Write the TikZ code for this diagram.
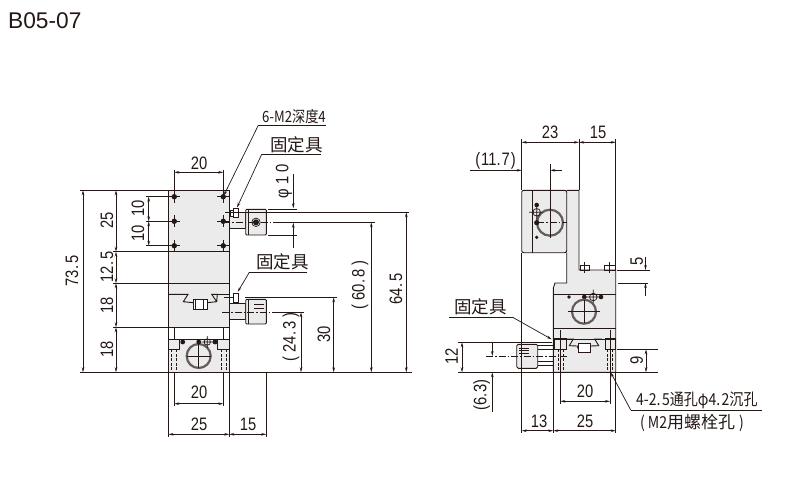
\documentclass[tikz,border=0pt]{standalone}
\usepackage{fontspec}
\setmainfont{Liberation Sans}
\newfontfamily\dimfont[FakeStretch=0.82]{Liberation Sans}
\newfontfamily\cjkfont{Noto Sans CJK SC}
\newfontfamily\cjknarrow[FakeStretch=0.85]{Noto Sans CJK SC}
\usetikzlibrary{arrows.meta}
\definecolor{ink}{HTML}{231815}
\definecolor{body}{HTML}{EBEBEB}

\tikzset{
  ln/.style={draw=ink,line width=0.9pt},
  thin ln/.style={draw=ink,line width=0.7pt},
  bore/.style={draw=ink!70,line width=2.2pt},
  ctr/.style={draw=ink,line width=0.7pt,dash pattern=on 7pt off 2pt on 1.5pt off 2pt},
  hid/.style={draw=ink,line width=0.7pt,dash pattern=on 3pt off 1.5pt},
  dimline/.style={draw=ink,line width=0.7pt,{Stealth[length=5pt,width=2.6pt]}-{Stealth[length=5pt,width=2.6pt]}},
  tip/.style={draw=ink,line width=0.7pt,-{Stealth[length=5pt,width=2.6pt]}},
  num/.style={inner sep=0,text=ink,font=\dimfont\fontsize{18}{18}\selectfont},
  cjk/.style={inner sep=0,text=ink,font=\cjkfont\fontsize{17.5}{18}\selectfont},
  note/.style={inner sep=0,text=ink,anchor=west,font=\cjknarrow\fontsize{16.5}{17}\selectfont},
}

\begin{document}
\begin{tikzpicture}[x=1pt,y=-1pt]
  \useasboundingbox (0,0) rectangle (805,485);
  \node[inner sep=0,anchor=west,text=ink,font=\fontsize{22.7}{23}\selectfont] (title) at (8,21) {B05-07};

  % front view
  \fill[body] (168.5,190.3) rectangle (229.3,327.3);
  \fill[body] (168.5,339) rectangle (229.3,372.3);
  \draw[ln] (168.5,190.3) rectangle (229.3,372.3);
  \foreach \y in {251.7,283.3,327.3}
    \draw[ln] (168.5,\y) -- (229.3,\y);
  \foreach \x in {174.3,223.3}
    \foreach \y in {196.7,221.3,245.7} {
      \draw[thin ln] (\x-6,\y) -- (\x+6,\y) (\x,\y-6) -- (\x,\y+6);
      \fill[ink] (\x,\y) circle [radius=2.7];
    }

  % dovetail
  \draw[ln] (168.5,294.3) -- (188,294.3) -- (183.3,301.7) -- (193.3,302.7);
  \draw[ln] (206.7,302.7) -- (216.7,301.7) -- (211.7,294.3) -- (217.3,294.3) -- (216.7,301.7);
  \draw[thin ln] (217.3,294.3) -- (229.3,294.3);
  \draw[ln,fill=white] (193.3,299.3) rectangle (207,309);
  \draw[thin ln] (195.8,299.3) -- (195.8,309) (203.3,299.3) -- (203.3,309);

  % lower part of the front view
  \draw[thin ln] (174.3,327.3) -- (174.3,339) (223.3,327.3) -- (223.3,339);
  \draw[thin ln] (168.5,339) -- (229.3,339);
  \draw[thin ln] (179.3,339) -- (179.3,349.3) -- (169,349.3);
  \draw[thin ln] (217.7,339) -- (217.7,349.3) -- (229,349.3);
  \foreach \x in {171,176.7,221,226.7}
    \draw[hid] (\x,349.3) -- (\x,372.3);
  \draw[bore] (198.7,356) circle [radius=12];
  \draw[thin ln] (186.7,356) -- (210.7,356) (198.7,344) -- (198.7,368);
  \foreach \x in {182.7,198.7,215}
    \fill[ink] (\x,342) circle [radius=2.4];
  \draw[thin ln] (207.3,342) circle [radius=3.2] (201.5,342) -- (213,342) (207.3,336) -- (207.3,348);

  % upper fastener
  \draw[ln,fill=body] (229.3,212) rectangle (245.7,228);
  \draw[ln,fill=body,rounded corners=1pt] (245.7,209.3) rectangle (266.3,235);
  \draw[thin ln] (248.5,209.3) -- (248.5,235);
  \draw[thin ln,fill=white] (230,210.5) rectangle (233.3,216);
  \draw[thin ln,fill=white] (233.3,208) rectangle (238,217);
  \fill[ink] (256,222.3) circle [radius=3];
  \draw[thin ln] (256,222.3) circle [radius=4.2];
  \draw[ctr] (223,222.3) -- (280,222.3);
  \draw[thin ln] (280,222.3) -- (375,222.3);
  \draw[thin ln] (225,212.3) -- (409,212.3);

  % lower fastener
  \draw[ln,fill=body] (229.3,303) rectangle (245.7,319.3);
  \draw[ln,fill=body,rounded corners=1pt] (245.7,299.3) rectangle (266.3,324);
  \draw[thin ln] (248.5,299.3) -- (248.5,324);
  \draw[thin ln,fill=white] (233.3,293.3) rectangle (238,302);
  \draw[thin ln] (224,297.3) -- (233.3,297.3) (245,297.3) -- (337,297.3);
  \draw[thin ln] (254,304) -- (264,304) (254,308) -- (264,308);
  \draw[ctr] (222,312.3) -- (275,312.3);
  \draw[thin ln] (275,312.3) -- (304,312.3);

  % dimensions of the front view
  \draw[thin ln] (80,190.3) -- (168.5,190.3) (80,372.3) -- (168.5,372.3);
  \draw[thin ln] (113,251.7) -- (168.5,251.7) (113,283.3) -- (168.5,283.3) (113,327.3) -- (168.5,327.3);
  \draw[thin ln] (146,196.7) -- (174.3,196.7) (146,221.3) -- (174.3,221.3) (146,245.7) -- (174.3,245.7);
  \draw[dimline] (83,190.3) -- (83,372.3);
  \draw[dimline] (116,190.3) -- (116,251.7);
  \draw[dimline] (116,251.7) -- (116,283.3);
  \draw[dimline] (116,283.3) -- (116,327.3);
  \draw[dimline] (116,327.3) -- (116,372.3);
  \draw[dimline] (148.7,196.7) -- (148.7,221.3);
  \draw[dimline] (148.7,221.3) -- (148.7,245.7);
  \node[num,rotate=90] (lenall) at (72,271) {73.\kern2pt 5};
  \node[num,rotate=90] (lentop) at (107,220) {25};
  \node[num,rotate=90] (lengap) at (107,267) {12.\kern2pt 5};
  \node[num,rotate=90] (lenmid) at (107,305) {18};
  \node[num,rotate=90] (lenlow) at (107,349) {18};
  \node[num,rotate=90] (pitcha) at (138,208) {10};
  \node[num,rotate=90] (pitchb) at (138,233) {10};

  \draw[thin ln] (174.3,170) -- (174.3,196.7) (223.3,170) -- (223.3,196.7);
  \draw[dimline] (174.3,172.3) -- (223.3,172.3);
  \node[num] (widtop) at (199,163) {20};
  \draw[thin ln] (174.3,372.3) -- (174.3,406) (223.3,372.3) -- (223.3,406);
  \draw[thin ln] (168.5,372.3) -- (168.5,437) (229.3,372.3) -- (229.3,437) (266.3,372.3) -- (266.3,437);
  \draw[dimline] (174.3,403.7) -- (223.3,403.7);
  \draw[dimline] (168.5,434.3) -- (229.3,434.3);
  \draw[dimline] (229.3,434.3) -- (266.3,434.3);
  \node[num] (widlow) at (199,392) {20};
  \node[num] (widall) at (199,424) {25};
  \node[num] (widfix) at (248,424) {15};

  % dimensions to the right of the fasteners
  \draw[thin ln] (229.3,372.3) -- (412,372.3);
  \draw[thin ln] (268,209.3) -- (297,209.3) (268,235) -- (297,235);
  \draw[tip] (293.3,174) -- (293.3,208.3);
  \draw[tip] (293.3,247.7) -- (293.3,222.7);
  \draw[dimline] (301,312.3) -- (301,372.3);
  \draw[dimline] (333.7,297.3) -- (333.7,372.3);
  \draw[dimline] (371.3,222.3) -- (371.3,372.3);
  \draw[dimline] (406.3,212.3) -- (406.3,372.3);
  \node[num,rotate=90] (phi) at (284,181) {φ 1 0};
  \node[num,rotate=90] (hta) at (291,337) {( 24.\kern2pt 3 )};
  \node[num,rotate=90] (htb) at (324,334) {30};
  \node[num,rotate=90] (htc) at (360,285) {( 60.\kern2pt 8 )};
  \node[num,rotate=90] (htd) at (396,289) {64.\kern2pt 5};

  % leaders of the front view
  \node[note,font=\cjknarrow\fontsize{15.5}{16}\selectfont] (depth) at (262,117) {6-M2深度4};
  \draw[thin ln] (258.3,125.3) -- (325.7,125.3);
  \draw[tip] (258.3,125.3) -- (223.8,195.5);
  \node[cjk] (fixa) at (296.5,145) {固定具};
  \draw[thin ln] (261.7,154.3) -- (321,154.3);
  \draw[tip] (261.7,154.3) -- (237,207.5);
  \node[cjk] (fixb) at (282.5,262) {固定具};
  \draw[thin ln] (249.3,272.3) -- (307,272.3);
  \draw[tip] (249.3,272.3) -- (237.7,292);

  % side view
  \fill[body] (521.7,190.3) rectangle (566.7,252.7);
  \fill[body] (566.7,190.3) -- (579,190.3) -- (579,270) -- (615.7,270) -- (615.7,372.3) -- (553.3,372.3) -- (553.3,288) -- (555,283) -- (566.7,283) -- cycle;
  \draw[ln,rounded corners=2pt] (521.7,190.3) rectangle (566.7,252.7);
  \draw[thin ln] (532.7,190.3) -- (532.7,252.7);
  \draw[ln] (566.7,190.3) -- (579,190.3) -- (579,270) -- (615.7,270) -- (615.7,372.3) -- (553.3,372.3) -- (553.3,288) -- (555,283) -- (566.7,283) -- (566.7,252.7);
  \draw[ln] (553.3,294.3) -- (615.7,294.3) (553.3,328.3) -- (615.7,328.3);
  \draw[thin ln] (553.3,339) -- (615.7,339);

  % plate holes
  \draw[bore] (550,222.7) circle [radius=13];
  \draw[ctr] (537,222.7) -- (566.7,222.7);
  \draw[thin ln] (550,164) -- (550,237.7);
  \foreach \y/\r in {205/2.3,222.7/2.6,237.3/1.8}
    \fill[ink] (536.7,\y) circle [radius=\r];
  \draw[thin ln] (536.7,212.3) circle [radius=3.8] (529,212.3) -- (542,212.3) (536.7,205) -- (536.7,220);

  % bolts on the step
  \foreach \x/\w/\c in {580/9.3/584.7,604.3/10.7/609.7} {
    \draw[thin ln] (\x,265) rectangle ++(\w,5);
    \draw[thin ln] (\c,262) -- (\c,273);
  }

  % holes of the lower block
  \foreach \x/\r in {569/1.9,584.3/2.3,601/2.3}
    \fill[ink] (\x,297) circle [radius=\r];
  \draw[thin ln] (593.3,297) circle [radius=3.8] (586,297) -- (600.5,297) (593.3,289.5) -- (593.3,304);
  \draw[bore] (584,311.7) circle [radius=12];
  \draw[thin ln] (568,311.7) -- (600,311.7) (584,300) -- (584,323);

  % counterbores and dovetail of the side view
  \draw[ln] (554,338.3) rectangle (566,349.3);
  \draw[ln] (605,338.3) rectangle (615.7,349.3);
  \foreach \x in {558.3,563.7,607.7,612.3}
    \draw[hid] (\x,349.3) -- (\x,372.3);
  \draw[line width=1.5pt,draw=ink] (605,372.3) -- (615,372.3);
  \draw[ln] (566,339) -- (573.3,339) -- (569.3,345.7) -- (577.3,346) -- (578.3,349);
  \draw[ln] (602,339) -- (594.7,339) -- (598.7,345.7) -- (590.7,346) -- (590,349);
  \draw[ln,fill=white] (578.3,343.3) rectangle (590,352.7);
  \draw[thin ln] (560.3,330) -- (560.3,403.5) (610,330) -- (610,403.5);

  % fastener of the side view
  \draw[thin ln] (537.7,345.7) -- (553.3,345.7) (537.7,365) -- (553.3,365);
  \draw[thin ln] (537.7,349.5) -- (553.3,349.5) (537.7,361) -- (553.3,361);
  \draw[ln,fill=body,rounded corners=1.5pt] (516.7,344.3) rectangle (537.7,368.3);
  \foreach \y in {348,350.5,353}
    \draw[thin ln] (519,\y) -- (529,\y);
  \draw[ctr] (486,356) -- (566.7,356);

  % dimensions of the side view
  \draw[thin ln] (521.7,139) -- (521.7,190.3) (579,139) -- (579,190.3) (615.7,139) -- (615.7,270);
  \draw[thin ln] (521.7,252.7) -- (521.7,433);
  \draw[dimline] (521.7,142.3) -- (579,142.3);
  \draw[dimline] (579,142.3) -- (615.7,142.3);
  \node[num] (sidea) at (550,132) {23};
  \node[num] (sideb) at (598,132) {15};
  \draw[thin ln] (470,170.3) -- (515,170.3);
  \draw[tip] (515,170.3) -- (521.7,170.3);
  \draw[tip] (561.7,170.3) -- (550.3,170.3);
  \node[num] (offset) at (495.5,161) {(\kern1pt 11.\kern1pt 7\kern1pt)};

  \draw[thin ln] (617,270) -- (650,270) (618,283) -- (648,283);
  \draw[tip] (645.5,256.7) -- (645.5,270);
  \draw[tip] (645.5,296) -- (645.5,283);
  \node[num,rotate=90] (step) at (636.7,261.7) {5};

  \draw[thin ln] (458,342.3) -- (551.7,342.3) (458,372.3) -- (553.3,372.3);
  \draw[dimline] (462,342.3) -- (462,372.3);
  \draw[tip] (492.3,342.3) -- (492.3,356);
  \draw[tip] (492.3,412.3) -- (492.3,372.3);
  \node[num,rotate=90] (ofsa) at (451.7,356) {12};
  \node[num,rotate=90] (ofsb) at (481.7,395) {(6.\kern1pt 3)};

  \draw[thin ln] (616.7,349.3) -- (658,349.3) (615.7,372.3) -- (658,372.3);
  \draw[dimline] (646,349.3) -- (646,372.3);
  \node[num,rotate=90] (ofsc) at (636.7,360) {9};

  \draw[thin ln] (553.3,372.3) -- (553.3,433) (615.7,372.3) -- (615.7,433);
  \draw[dimline] (560.3,401.3) -- (610,401.3);
  \draw[dimline] (521.7,430.7) -- (553.3,430.7);
  \draw[dimline] (553.3,430.7) -- (615.7,430.7);
  \node[num] (sidec) at (585,391) {20};
  \node[num] (sided) at (539,421) {13};
  \node[num] (sidee) at (585,421) {25};

  % leaders of the side view
  \node[cjk] (fixc) at (480.5,307) {固定具};
  \draw[thin ln] (449,317.3) -- (512.7,317.3);
  \draw[tip] (512.7,317.3) -- (551.7,339.3);
  \node[note] (holea) at (636,400) {4-2.\kern1.5pt 5通孔φ4.\kern1.5pt 2沉孔};
  \node[note] (holeb) at (640,423) {(\kern3pt M2{\cjkfont\fontsize{17}{17}\selectfont 用螺栓孔}\kern4pt)};
  \draw[thin ln] (630.7,410) -- (761.7,410);
  \draw[tip] (630.7,410) -- (610.7,372.5);
\end{tikzpicture}
\end{document}
